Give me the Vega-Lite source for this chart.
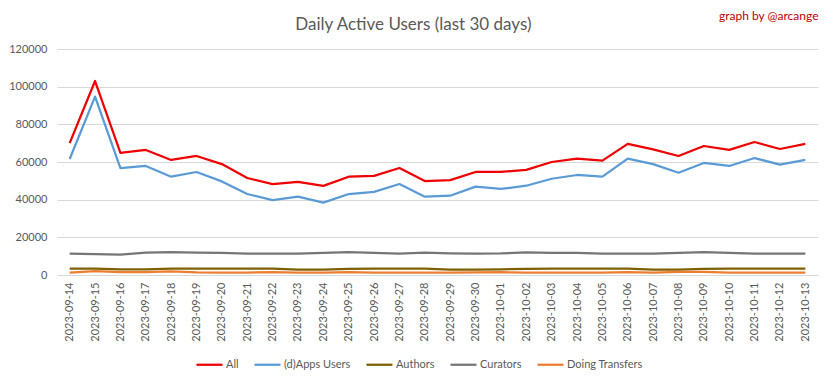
{
  "$schema": "https://vega.github.io/schema/vega-lite/v6.json",
  "width": 761,
  "height": 226,
  "autosize": {"type": "none"},
  "padding": {"left": 57, "top": 49, "right": 15, "bottom": 104},
  "background": "white",
  "config": {
    "font": "Lato",
    "view": {"stroke": null}
  },
  "title": {
    "text": "Daily Active Users (last 30 days)",
    "fontSize": 17,
    "fontWeight": "normal",
    "color": "#595959",
    "font": "Lato",
    "anchor": "middle",
    "frame": "bounds",
    "offset": 4,
    "dy": 29
  },
  "data": {
    "values": [
      {"date": "2023-09-14", "All": 70000, "(d)Apps Users": 61600, "Authors": 3400, "Curators": 11300, "Doing Transfers": 1300},
      {"date": "2023-09-15", "All": 103000, "(d)Apps Users": 94700, "Authors": 3400, "Curators": 11150, "Doing Transfers": 2100},
      {"date": "2023-09-16", "All": 64900, "(d)Apps Users": 56800, "Authors": 3000, "Curators": 10800, "Doing Transfers": 1500},
      {"date": "2023-09-17", "All": 66400, "(d)Apps Users": 57900, "Authors": 3000, "Curators": 11900, "Doing Transfers": 1500},
      {"date": "2023-09-18", "All": 61100, "(d)Apps Users": 52200, "Authors": 3400, "Curators": 12200, "Doing Transfers": 1900},
      {"date": "2023-09-19", "All": 63200, "(d)Apps Users": 54700, "Authors": 3400, "Curators": 11900, "Doing Transfers": 1400},
      {"date": "2023-09-20", "All": 58900, "(d)Apps Users": 49700, "Authors": 3400, "Curators": 11700, "Doing Transfers": 1300},
      {"date": "2023-09-21", "All": 51500, "(d)Apps Users": 43000, "Authors": 3400, "Curators": 11300, "Doing Transfers": 1300},
      {"date": "2023-09-22", "All": 48300, "(d)Apps Users": 39800, "Authors": 3400, "Curators": 11300, "Doing Transfers": 1500},
      {"date": "2023-09-23", "All": 49400, "(d)Apps Users": 41600, "Authors": 2900, "Curators": 11300, "Doing Transfers": 1300},
      {"date": "2023-09-24", "All": 47300, "(d)Apps Users": 38400, "Authors": 2900, "Curators": 11700, "Doing Transfers": 1300},
      {"date": "2023-09-25", "All": 52200, "(d)Apps Users": 43000, "Authors": 3300, "Curators": 12200, "Doing Transfers": 1500},
      {"date": "2023-09-26", "All": 52600, "(d)Apps Users": 44100, "Authors": 3400, "Curators": 11700, "Doing Transfers": 1300},
      {"date": "2023-09-27", "All": 56800, "(d)Apps Users": 48300, "Authors": 3400, "Curators": 11300, "Doing Transfers": 1300},
      {"date": "2023-09-28", "All": 49900, "(d)Apps Users": 41600, "Authors": 3400, "Curators": 11900, "Doing Transfers": 1300},
      {"date": "2023-09-29", "All": 50400, "(d)Apps Users": 42100, "Authors": 2900, "Curators": 11500, "Doing Transfers": 1300},
      {"date": "2023-09-30", "All": 54700, "(d)Apps Users": 46900, "Authors": 2800, "Curators": 11300, "Doing Transfers": 1400},
      {"date": "2023-10-01", "All": 54700, "(d)Apps Users": 45700, "Authors": 3000, "Curators": 11500, "Doing Transfers": 1500},
      {"date": "2023-10-02", "All": 55800, "(d)Apps Users": 47400, "Authors": 3300, "Curators": 12000, "Doing Transfers": 1300},
      {"date": "2023-10-03", "All": 60000, "(d)Apps Users": 51100, "Authors": 3400, "Curators": 11700, "Doing Transfers": 1300},
      {"date": "2023-10-04", "All": 61800, "(d)Apps Users": 53100, "Authors": 3400, "Curators": 11700, "Doing Transfers": 1300},
      {"date": "2023-10-05", "All": 60700, "(d)Apps Users": 52200, "Authors": 3400, "Curators": 11300, "Doing Transfers": 1300},
      {"date": "2023-10-06", "All": 69600, "(d)Apps Users": 61800, "Authors": 3400, "Curators": 11300, "Doing Transfers": 1500},
      {"date": "2023-10-07", "All": 66700, "(d)Apps Users": 58900, "Authors": 2900, "Curators": 11300, "Doing Transfers": 1300},
      {"date": "2023-10-08", "All": 63200, "(d)Apps Users": 54300, "Authors": 2900, "Curators": 11700, "Doing Transfers": 1600},
      {"date": "2023-10-09", "All": 68500, "(d)Apps Users": 59500, "Authors": 3300, "Curators": 12200, "Doing Transfers": 1700},
      {"date": "2023-10-10", "All": 66400, "(d)Apps Users": 57900, "Authors": 3400, "Curators": 11700, "Doing Transfers": 1300},
      {"date": "2023-10-11", "All": 70600, "(d)Apps Users": 62100, "Authors": 3400, "Curators": 11300, "Doing Transfers": 1300},
      {"date": "2023-10-12", "All": 66900, "(d)Apps Users": 58600, "Authors": 3400, "Curators": 11300, "Doing Transfers": 1300},
      {"date": "2023-10-13", "All": 69600, "(d)Apps Users": 61100, "Authors": 3400, "Curators": 11300, "Doing Transfers": 1300}
    ]
  },
  "transform": [
    {"fold": ["All", "(d)Apps Users", "Authors", "Curators", "Doing Transfers"], "as": ["series", "users"]}
  ],
  "mark": {"type": "line", "strokeWidth": 2.25, "strokeJoin": "round"},
  "encoding": {
    "x": {
      "field": "date",
      "type": "ordinal",
      "sort": null,
      "scale": {"type": "point", "padding": 0.5},
      "axis": {
        "title": null,
        "labelAngle": -90,
        "labelFont": "Lato",
        "labelFontSize": 11,
        "labelColor": "#595959",
        "labelPadding": 7,
        "ticks": false,
        "domain": true,
        "domainColor": "#D9D9D9",
        "grid": false
      }
    },
    "y": {
      "field": "users",
      "type": "quantitative",
      "scale": {"domain": [0, 120000]},
      "axis": {
        "title": "graph by @arcange",
        "titleAngle": 0,
        "titleAlign": "right",
        "titleBaseline": "middle",
        "titleX": 761,
        "titleY": -34,
        "titleColor": "#C00000",
        "titleFont": "Lato",
        "titleFontSize": 12,
        "titleFontWeight": "normal",
        "values": [0, 20000, 40000, 60000, 80000, 100000, 120000],
        "format": "d",
        "labelFont": "Lato",
        "labelFontSize": 11,
        "labelColor": "#595959",
        "labelPadding": 10,
        "ticks": false,
        "domain": false,
        "gridColor": "#D9D9D9",
        "gridWidth": 1
      }
    },
    "color": {
      "field": "series",
      "type": "nominal",
      "scale": {
        "domain": ["All", "(d)Apps Users", "Authors", "Curators", "Doing Transfers"],
        "range": ["#EE0000", "#5B9BD5", "#7F6000", "#767676", "#ED7D31"]
      },
      "legend": {
        "title": null,
        "orient": "none",
        "legendX": 138,
        "legendY": 301,
        "direction": "horizontal",
        "symbolType": "stroke",
        "symbolSize": 676,
        "symbolStrokeWidth": 2.25,
        "labelFont": "Lato",
        "labelFontSize": 11,
        "labelColor": "#595959",
        "labelOffset": 2,
        "columnPadding": 11
      }
    },
    "order": {"value": 0}
  }
}
